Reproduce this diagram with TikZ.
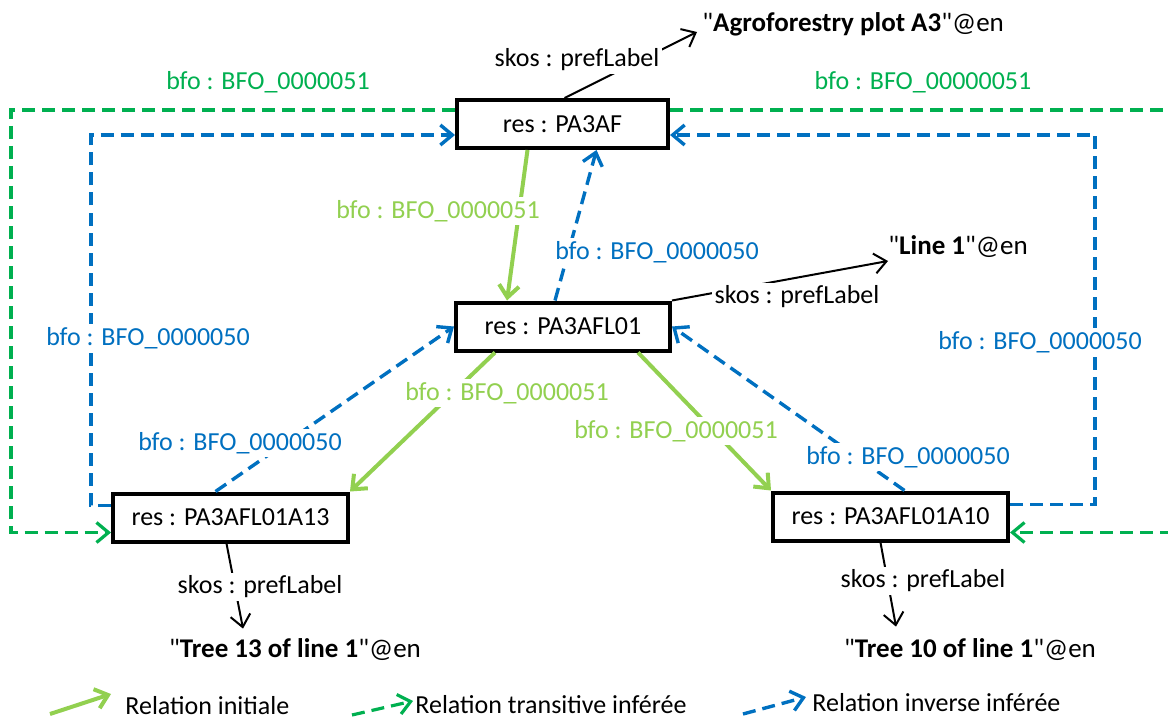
\documentclass[tikz,border=0pt]{standalone}
\usepackage{fontspec}
\setmainfont{Carlito}[Ligatures=TeXOff]
\usetikzlibrary{arrows.meta}
\definecolor{initgreen}{HTML}{92D050}
\definecolor{transgreen}{HTML}{00B050}
\definecolor{invblue}{HTML}{0070C0}
\begin{document}
\begin{tikzpicture}[x=0.5pt,y=-0.5pt,font=\fontsize{13}{15}\selectfont]

    \tikzset{
      res/.style={
        draw,
        line width=2pt,
        minimum height=24pt,
        inner sep=0pt,
      },
      lit/.style={inner sep=1pt,font=\fontsize{13.5}{16}\selectfont},
      lbl/.style={fill=white,inner sep=1.5pt},
      pref/.style={color={black},line width=1pt,-{Straight Barb[length=6pt,width=10pt]}},
      init/.style={color={initgreen},line width=2pt,-{Straight Barb[length=6pt,width=10pt]}},
      trans/.style={color={transgreen},line width=1.6pt,dash pattern=on 6.5pt off 3.5pt,-{Straight Barb[length=6pt,width=10pt]}},
      inv/.style={color={invblue},line width=1.7pt,dash pattern=on 6.5pt off 3.5pt,-{Straight Barb[length=6pt,width=10pt]}},
    }

	\useasboundingbox (0,0) rectangle (1168,722);
	\clip (0,0) rectangle (1168,722);

	\node[res,minimum width=105.5pt] (af) at (562.5,124) {res : PA3AF};
	\node[res,minimum width=107pt] (l01) at (563,326.5) {res : PA3AFL01};
	\node[res,minimum width=117.5pt] (a13) at (230.5,517.5) {res : PA3AFL01A13};
	\node[res,minimum width=117.5pt] (a10) at (890.5,516.5) {res : PA3AFL01A10};

	\node[lit,anchor=west] (agro) at (700,24) {"\textbf{Agroforestry plot A3}"@en};
	\node[lit,anchor=west] (line) at (886,247) {"\textbf{Line 1}"@en};
	\node[lit] (tree13) at (295,650) {"\textbf{Tree 13 of line 1}"@en};
	\node[lit] (tree10) at (970,650) {"\textbf{Tree 10 of line 1}"@en};

	\draw[trans] ([yshift=7pt]af.west) -- ++(-444,0) |- ([yshift=-7.5pt]a13.west);
	\draw[trans] ([yshift=7pt]af.east) -- ++(530,0) |- ([yshift=-8pt]a10.east);
	\draw[inv] ([yshift=6pt]a13.west) -- ++(-20,0) |- ([yshift=-5.5pt]af.west);
	\draw[inv] ([yshift=6pt]a10.east) -- ++(85,0) |- ([yshift=-5.5pt]af.east);

	\draw[init] ([xshift=-17.5pt]af.south) -- ([xshift=-28pt]l01.north);
	\draw[init] ([xshift=-34pt]l01.south) -- (a13.north east);
	\draw[init] ([xshift=37.5pt]l01.south) -- (a10.north west);

	\draw[inv] ([xshift=-4pt]l01.north) -- ([xshift=17pt]af.south);
	\draw[inv] ([xshift=-7.5pt]a13.north) -- (l01.west);
	\draw[inv] ([xshift=7pt]a10.north) -- (l01.east);

	\draw[pref] ([xshift=1pt]af.north) -- ([xshift=-1.5pt,yshift=-4pt]agro.west);
	\draw[pref] (l01.north east) -- ([xshift=1pt,yshift=-7pt]line.west);
	\draw[pref] ([xshift=-2pt]a13.south) -- ([xshift=-26pt,yshift=4pt]tree13.north);
	\draw[pref] ([xshift=-5pt]a10.south) -- ([xshift=-37pt,yshift=5pt]tree10.north);

	\node[lbl,text=transgreen] (t1) at (268,82) {bfo : BFO\_0000051};
	\node[lbl,text=transgreen] (t2) at (923,82) {bfo : BFO\_00000051};
	\node[lbl] (p1) at (577,60) {skos : prefLabel};
	\node[lbl,text=initgreen] (i1) at (438,211) {bfo : BFO\_0000051};
	\node[lbl,text=invblue] (v1) at (657,252) {bfo : BFO\_0000050};
	\node[lbl] (p2) at (797,297) {skos : prefLabel};
	\node[lbl,text=invblue] (v2) at (148,338) {bfo : BFO\_0000050};
	\node[lbl,text=invblue] (v3) at (1040,342) {bfo : BFO\_0000050};
	\node[lbl,text=initgreen] (i2) at (507,393) {bfo : BFO\_0000051};
	\node[lbl,text=initgreen] (i3) at (676,431) {bfo : BFO\_0000051};
	\node[lbl,text=invblue] (v4) at (240,443) {bfo : BFO\_0000050};
	\node[lbl,text=invblue] (v5) at (908,457) {bfo : BFO\_0000050};
	\node[lbl] (p3) at (260,587) {skos : prefLabel};
	\node[lbl] (p4) at (923,581) {skos : prefLabel};

	\node[anchor=west,inner sep=0pt] (legA) at (125,706) {Relation initiale};
	\node[anchor=west,inner sep=0pt] (legB) at (415,705) {Relation transitive inférée};
	\node[anchor=west,inner sep=0pt] (legC) at (812,703) {Relation inverse inférée};
	\coordinate (la) at (50,714);
	\coordinate (lb) at (352,715);
	\coordinate (lc) at (743,714);
	\draw[init] (la) -- ([xshift=-7pt,yshift=6pt]legA.west);
	\draw[trans] (lb) -- ([xshift=-1pt,yshift=2pt]legB.west);
	\draw[inv] (lc) -- ([xshift=-3pt,yshift=3pt]legC.west);

\end{tikzpicture}
\end{document}
